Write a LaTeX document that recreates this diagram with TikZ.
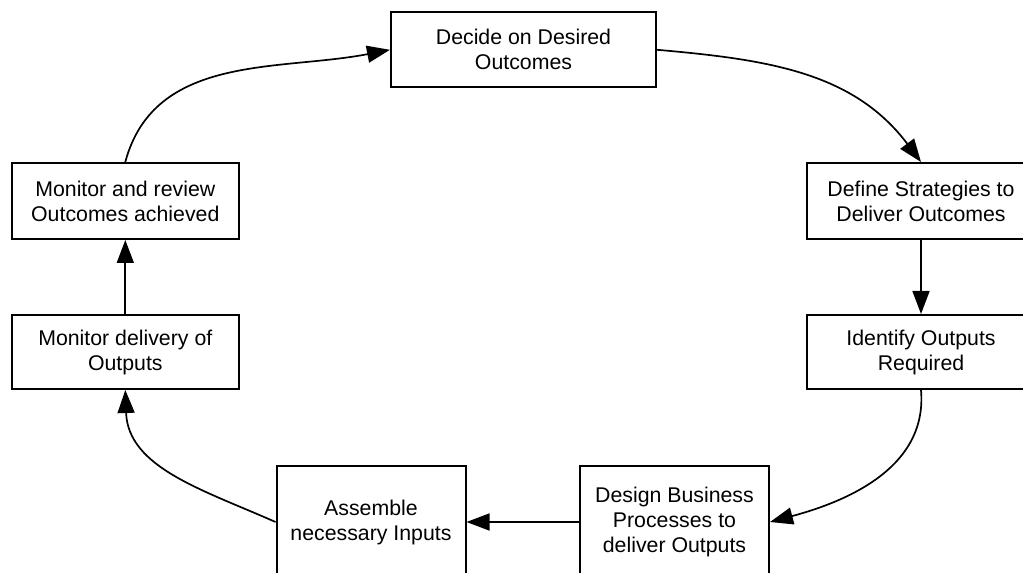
\documentclass[tikz,border=0pt]{standalone}
\usepackage{fontspec}
\setmainfont{Liberation Sans}
\usetikzlibrary{arrows.meta}

\begin{document}
\begin{tikzpicture}[x=1pt, y=1pt,
  stagebox/.style={draw=black, line width=2pt, fill=white, rectangle,
    align=center, inner sep=0pt, font=\fontsize{21.3}{25}\selectfont},
  flow/.style={line width=1.7pt, -{Triangle[length=23pt,width=17pt]}}
]
  % page frame (the outer boxes run past the edges and are cut off)
  \path[use as bounding box, clip] (0,0) rectangle (1023,573);

  % stages of the cycle
  \node[stagebox, minimum width=265pt, minimum height=75pt]  (decide)   at (523.5,523.2) {Decide on Desired\\Outcomes};
  \node[stagebox, minimum width=228pt, minimum height=76pt]  (define)   at (921,372)     {Define Strategies to\\Deliver Outcomes};
  \node[stagebox, minimum width=228pt, minimum height=74pt]  (identify) at (921,221)     {Identify Outputs\\Required};
  \node[stagebox, minimum width=189pt, minimum height=112pt] (design)   at (674.5,51)    {Design Business\\Processes to\\deliver Outputs};
  \node[stagebox, minimum width=189pt, minimum height=112pt] (assemble) at (371,51)      {Assemble\\necessary Inputs};
  \node[stagebox, minimum width=227pt, minimum height=74pt]  (delivery) at (125.3,221)   {Monitor delivery of\\Outputs};
  \node[stagebox, minimum width=227pt, minimum height=76pt]  (review)   at (125.3,372)   {Monitor and review\\Outcomes achieved};

  % connectors
  \draw[flow] (decide.east) to[out=-5, in=127] (define.north);
  \draw[flow] (define.south) -- (identify.north);
  \draw[flow] (identify.south) to[out=-85, in=15] (design.east);
  \draw[flow] (design.west) -- (assemble.east);
  \draw[flow] (assemble.west) to[out=156, in=-88] (delivery.south);
  \draw[flow] (delivery.north) -- (review.south);
  \draw[flow] (review.north) to[out=75, in=-169] (decide.west);
\end{tikzpicture}
\end{document}
